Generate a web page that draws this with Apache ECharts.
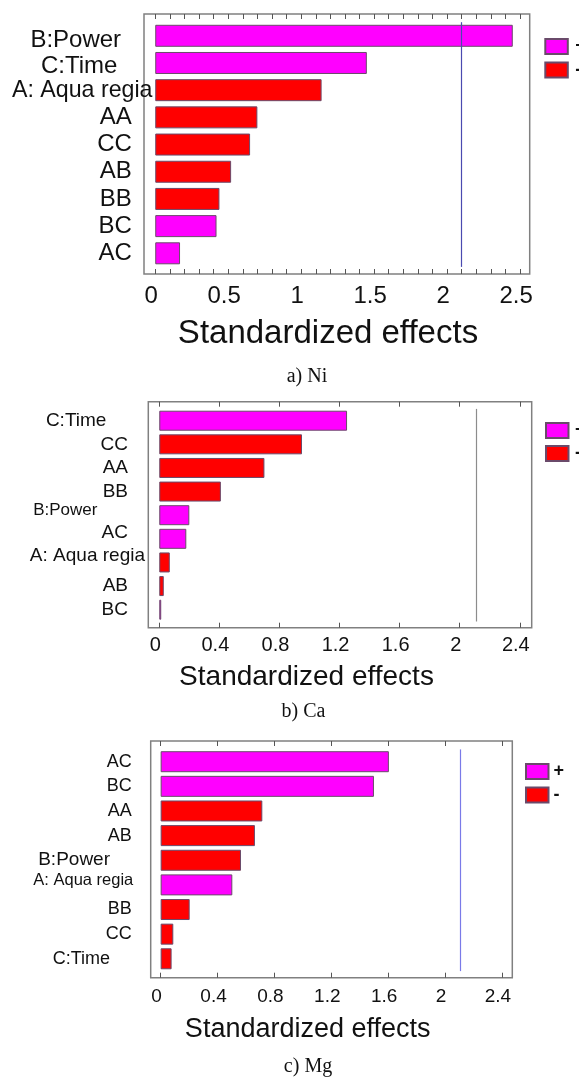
<!DOCTYPE html>
<html>
<head>
<meta charset="utf-8">
<title>Standardized effects</title>
<script src="https://cdn.jsdelivr.net/npm/echarts@6/dist/echarts.min.js"></script>
<style>
  html, body { margin: 0; padding: 0; background: #fff; }
  #chart { width: 579px; height: 1079px; }
</style>
</head>
<body>
<div id="chart"></div>
<script>
// ---- data ----
const niTerms = ["B:Power", "C:Time", "A: Aqua regia", "AA", "CC", "AB", "BB", "BC", "AC"];
const niEffects = [2.45, 1.45, 1.14, 0.70, 0.65, 0.52, 0.44, 0.42, 0.17];
const niSigns = ["+", "+", "-", "-", "-", "-", "-", "+", "+"];
const niCritical = 2.10;
const niTickLabels = [0, 0.5, 1, 1.5, 2, 2.5];

const caTerms = ["C:Time", "CC", "AA", "BB", "B:Power", "AC", "A: Aqua regia", "AB", "BC"];
const caEffects = [1.25, 0.95, 0.70, 0.41, 0.20, 0.18, 0.07, 0.03, 0.013];
const caSigns = ["+", "-", "-", "-", "+", "+", "-", "-", "+"];
const caCritical = 2.11;
const caTickLabels = [0, 0.4, 0.8, 1.2, 1.6, 2, 2.4];

const mgTerms = ["AC", "BC", "AA", "AB", "B:Power", "A: Aqua regia", "BB", "CC", "C:Time"];
const mgEffects = [1.605, 1.50, 0.715, 0.663, 0.565, 0.504, 0.204, 0.089, 0.077];
const mgSigns = ["+", "+", "-", "-", "-", "+", "-", "-", "-"];
const mgCritical = 2.107;
const mgTickLabels = [0, 0.4, 0.8, 1.2, 1.6, 2, 2.4];

const legendNames = ["+", "-"];
const axisTitle = "Standardized effects";
const captions = ["a) Ni", "b) Ca", "c) Mg"];

// ---- layout (pixels) ----
const SANS = '"Liberation Sans", Arial, sans-serif';
const SERIF = '"Liberation Serif", "Times New Roman", serif';
const colors = { "+": "#ff00ff", "-": "#ff0000" };

// per-label nudges: r = extra right gap, dy = vertical shift (+ down)
const panels = [
  {
    terms: niTerms, effects: niEffects, signs: niSigns, critical: niCritical,
    ticks: niTickLabels, minorStep: 0.1,
    box: [144, 14, 529.7, 274], barTop: 22.2, barBottom: 266.9, barWidth: 22,
    xMin: -0.077, xMax: 2.566,
    labelFont: 24, labelMargin: -8.5,
    nudge: {
      "B:Power": { r: 31.4, dy: 4.7 },
      "C:Time": { r: 35.1, dy: 3.7 },
      "A: Aqua regia": { r: 0, size: 23.2 },
      "_": { r: 20.7 }
    },
    tickFont: 24, tickMargin: 10,
    critColor: "#4a4ab0",
    legend: { left: 544.3, top: 37.5, itemGap: 5.5, textPad: 2.5 },
    titleAt: [328, 334, 33], captionAt: [307, 377]
  },
  {
    terms: caTerms, effects: caEffects, signs: caSigns, critical: caCritical,
    ticks: caTickLabels, minorStep: null,
    box: [148.3, 401.7, 531.7, 627.7], barTop: 408.9, barBottom: 621.5, barWidth: 20,
    xMin: -0.073, xMax: 2.479,
    labelFont: 19, labelMargin: 3.3,
    nudge: {
      "C:Time": { r: 38.6 },
      "B:Power": { r: 47.6, dy: -4.5, size: 17 },
      "AC": { r: 17, dy: -6 },
      "A: Aqua regia": { r: 0, dy: -7 },
      "_": { r: 17 }
    },
    tickFont: 20, tickMargin: 7.3,
    critColor: "#8c8c8c",
    legend: { left: 545, top: 421.5, itemGap: 5, textPad: 1.5 },
    titleAt: [306.5, 677, 28], captionAt: [303.5, 712]
  },
  {
    terms: mgTerms, effects: mgEffects, signs: mgSigns, critical: mgCritical,
    ticks: mgTickLabels, minorStep: null,
    box: [150.7, 741, 512.3, 977.7], barTop: 749.4, barBottom: 971.1, barWidth: 21,
    xMin: -0.070, xMax: 2.473,
    labelFont: 18, labelMargin: 17.4,
    nudge: {
      "B:Power": { r: 23.3, size: 19 },
      "C:Time": { r: 23.3 },
      "A: Aqua regia": { r: 0, dy: -4, size: 16.5 },
      "_": { r: 1.5 }
    },
    tickFont: 19, tickMargin: 9.8,
    critColor: "#7a7ae8",
    legend: { left: 525, top: 762.5, itemGap: 5.5, textPad: 0 },
    titleAt: [307.7, 1030, 27], captionAt: [308, 1067]
  }
];

// vertical padding only counts for top/bottom aligned text, so shift with lineHeight
function labelTextStyle(p, term) {
  const n = p.nudge[term] || p.nudge["_"];
  const st = { padding: [0, n.r, 0, 0] };
  if (n.size) st.fontSize = n.size;
  if (n.dy > 0) { st.verticalAlign = "top"; st.lineHeight = 2 * n.dy; }
  if (n.dy < 0) { st.verticalAlign = "bottom"; st.lineHeight = -2 * n.dy; }
  return st;
}

const grid = [], xAxis = [], yAxis = [], series = [], legend = [], graphic = [];

panels.forEach((p, k) => {
  const [x0, y0, x1, y1] = p.box;
  const w = x1 - x0;

  // frame grid: box + ticks + tick labels
  grid.push({ left: x0, top: y0, width: w, height: y1 - y0, show: true,
    borderColor: "#808080", borderWidth: 1.5, backgroundColor: "transparent" });
  // bar grid: inset vertically like the original plot
  grid.push({ left: x0, top: p.barTop, width: w, height: p.barBottom - p.barTop });

  let tickValues = p.ticks;
  if (p.minorStep) {
    tickValues = [];
    const last = p.ticks[p.ticks.length - 1];
    for (let v = 0; v <= last + 1e-9; v += p.minorStep) tickValues.push(Math.round(v * 10) / 10);
  }

  const tickCommon = {
    type: "value", gridIndex: 2 * k, min: p.xMin, max: p.xMax,
    axisLine: { show: false },
    splitLine: { show: false },
    axisTick: { show: true, inside: true, length: 5, customValues: tickValues,
      lineStyle: { color: "#555", width: 1 } }
  };
  xAxis.push(Object.assign({}, tickCommon, {
    position: "bottom",
    axisLabel: { show: true, customValues: p.ticks, fontSize: p.tickFont, fontFamily: SANS,
      color: "#111", margin: p.tickMargin, padding: [0, 8, 0, 0] }
  }));
  xAxis.push(Object.assign({}, tickCommon, {
    position: "top",
    axisLabel: { show: false }
  }));
  xAxis.push({ type: "value", gridIndex: 2 * k + 1, min: p.xMin, max: p.xMax, show: false });

  yAxis.push({ type: "value", gridIndex: 2 * k, show: false });
  yAxis.push({
    type: "category", gridIndex: 2 * k + 1, inverse: true,
    data: p.terms.map(t => ({ value: t, textStyle: labelTextStyle(p, t) })),
    axisLine: { show: false }, axisTick: { show: false },
    axisLabel: { interval: 0, fontSize: p.labelFont, fontFamily: SANS, color: "#111",
      margin: p.labelMargin, align: "right" }
  });

  legendNames.forEach((name, i) => {
    const s = {
      name: name, type: "bar", stack: "p" + k,
      xAxisIndex: 3 * k + 2, yAxisIndex: 2 * k + 1,
      barWidth: p.barWidth,
      itemStyle: { color: colors[name], borderColor: "#6a4a6a", borderWidth: 1 },
      data: p.effects.map((v, j) => (p.signs[j] === name ? v : "-"))
    };
    if (i === 0) {
      s.markLine = {
        silent: true, symbol: "none", label: { show: false },
        lineStyle: { color: p.critColor, type: "solid", width: 1.2 },
        data: [{ xAxis: p.critical }]
      };
    }
    series.push(s);
  });

  legend.push({
    data: legendNames, orient: "vertical", left: p.legend.left, top: p.legend.top,
    padding: 0, itemWidth: 22.5, itemHeight: 15, itemGap: p.legend.itemGap,
    icon: "rect", selectedMode: false,
    textStyle: { fontSize: 18, fontFamily: SANS, color: "#111", fontWeight: "bold",
      padding: [0, 0, 0, p.legend.textPad] }
  });

  graphic.push({
    type: "text", x: p.titleAt[0], y: p.titleAt[1],
    style: { text: axisTitle, font: p.titleAt[2] + "px " + SANS, fill: "#111",
      align: "center", verticalAlign: "middle" }
  });
  graphic.push({
    type: "text", x: p.captionAt[0], y: p.captionAt[1],
    style: { text: captions[k], font: "20px " + SERIF, fill: "#111",
      align: "center", verticalAlign: "middle" }
  });
});

const chart = echarts.init(document.getElementById("chart"));
chart.setOption({
  animation: false,
  backgroundColor: "#ffffff",
  grid: grid,
  xAxis: xAxis,
  yAxis: yAxis,
  legend: legend,
  graphic: graphic,
  series: series
});
window.addEventListener("resize", chart.resize);
</script>
</body>
</html>
